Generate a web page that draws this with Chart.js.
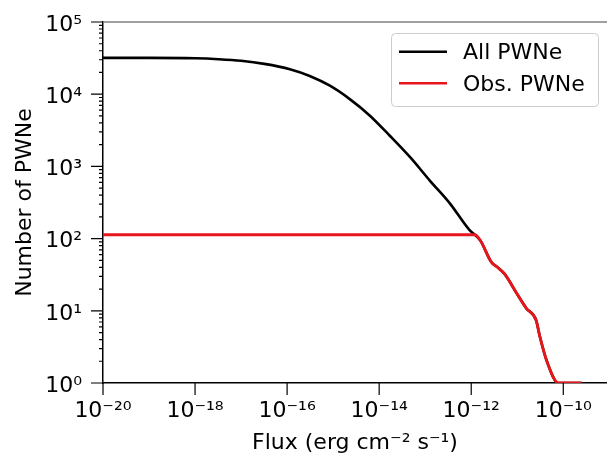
<!DOCTYPE html>
<html><head><meta charset="utf-8">
<script src="https://cdn.jsdelivr.net/npm/chart.js@4/dist/chart.umd.min.js"></script>
<style>html,body{margin:0;padding:0;background:#fff;overflow:hidden}canvas{display:block}</style>
</head><body>
<canvas id="c" width="607" height="456"></canvas>
<script>
// ---- data ----
const seriesLabels = ['All PWNe', 'Obs. PWNe'];
const allFlux  = [1e-20, 1e-19, 1e-18, 3.2e-18, 1e-17, 3.2e-17, 1.15e-16, 3.1e-16, 8.5e-16, 2.3e-15, 6.3e-15, 1.7e-14, 4.7e-14, 1.26e-13, 3.5e-13, 9.3e-13, 1.2e-12, 1.58e-12, 2.75e-12, 3.55e-12, 5.4e-12, 9.8e-12, 1.58e-11, 2.57e-11, 3.1e-11, 4.4e-11, 7.8e-11, 2.5e-10];
const allCount = [31800, 31800, 31400, 30500, 29000, 26300, 22200, 17900, 13100, 8550, 5040, 2660, 1340, 637, 303, 130, 113, 94, 47, 41, 32, 17.3, 10.8, 7.4, 4.4, 2.0, 1, 1];
const obsFlux  = [1e-20, 1.2e-12, 1.58e-12, 2.75e-12, 3.55e-12, 5.4e-12, 9.8e-12, 1.58e-11, 2.57e-11, 3.1e-11, 4.4e-11, 7.8e-11, 2.5e-10];
const obsCount = [113, 113, 94, 47, 41, 32, 17.3, 10.8, 7.4, 4.4, 2.0, 1, 1];
const xTickValues = [1e-20, 1e-18, 1e-16, 1e-14, 1e-12, 1e-10];
const yTickValues = [1, 10, 100, 1000, 10000, 100000];
const xTitle = 'Flux (erg cm⁻² s⁻¹)';
const yTitle = 'Number of PWNe';

const SUP = {'-':'⁻','0':'⁰','1':'¹','2':'²','3':'³','4':'⁴','5':'⁵','6':'⁶','7':'⁷','8':'⁸','9':'⁹'};
function powLabel(v) {
  const e = Math.round(Math.log10(v));
  return '10' + String(e).split('').map(ch => SUP[ch]).join('');
}
const FONT = "'DejaVu Sans', sans-serif";
const colors = ['#000000', '#e8151b'];

const decor = {
  id: 'decor',
  afterDraw(chart) {
    const {ctx, chartArea: a, scales: {x, y}} = chart;
    ctx.save();
    // top spine
    ctx.strokeStyle = '#808080'; ctx.lineWidth = 1.3;
    ctx.beginPath(); ctx.moveTo(a.left, a.top); ctx.lineTo(a.right, a.top); ctx.stroke();
    // tick marks
    ctx.strokeStyle = '#000'; ctx.lineWidth = 1.2;
    ctx.beginPath();
    yTickValues.forEach(v => { const p = y.getPixelForValue(v); ctx.moveTo(a.left - 12, p); ctx.lineTo(a.left, p); });
    for (let d = 0; d < yTickValues.length - 1; d++) {
      for (let m = 2; m <= 9; m++) {
        const p = y.getPixelForValue(m * yTickValues[d]);
        ctx.moveTo(a.left - 4, p); ctx.lineTo(a.left, p);
      }
    }
    xTickValues.forEach(v => { const p = x.getPixelForValue(v); ctx.moveTo(p, a.bottom); ctx.lineTo(p, a.bottom + 12); });
    ctx.stroke();
    // legend
    const bx = 391, by = 33, bw = 207, bh = 73, r = 4;
    ctx.fillStyle = 'rgba(255,255,255,0.85)';
    ctx.strokeStyle = '#cccccc'; ctx.lineWidth = 1;
    ctx.beginPath();
    ctx.roundRect(bx + 0.5, by + 0.5, bw, bh, r);
    ctx.fill(); ctx.stroke();
    ctx.font = '22px ' + FONT; ctx.textBaseline = 'middle'; ctx.textAlign = 'left';
    chart.data.datasets.forEach((ds, i) => {
      const ly = 51.7 + i * 31.6;
      ctx.strokeStyle = ds.borderColor; ctx.lineWidth = 2.5;
      ctx.beginPath(); ctx.moveTo(399, ly); ctx.lineTo(447, ly); ctx.stroke();
      ctx.fillStyle = '#000';
      ctx.fillText(ds.label, 463, ly + 1.5);
    });
    ctx.restore();
  }
};

new Chart(document.getElementById('c'), {
  type: 'line',
  data: {
    datasets: [
      { label: seriesLabels[0], data: allFlux.map((f, i) => ({x: f, y: allCount[i]})), borderColor: colors[0], backgroundColor: colors[0], borderWidth: 2.6, pointRadius: 0, cubicInterpolationMode: 'monotone', order: 1 },
      { label: seriesLabels[1], data: obsFlux.map((f, i) => ({x: f, y: obsCount[i]})), borderColor: colors[1], backgroundColor: colors[1], borderWidth: 2.8, pointRadius: 0, cubicInterpolationMode: 'monotone', order: 0 }
    ]
  },
  options: {
    responsive: false, animation: false, devicePixelRatio: 1,
    layout: { padding: { left: 0, right: 0, top: 22, bottom: 0 } },
    plugins: { legend: { display: false }, tooltip: { enabled: false } },
    scales: {
      x: {
        type: 'logarithmic', min: 1e-20, max: Math.pow(10, -9.05),
        afterBuildTicks: s => { s.ticks = xTickValues.map(v => ({value: v})); },
        afterFit: s => { s.height = 73; s.paddingLeft = 0; s.paddingRight = 0; },
        grid: { display: true, drawOnChartArea: false, drawTicks: false },
        border: { display: true, color: '#000', width: 1.5 },
        ticks: { autoSkip: false, maxRotation: 0, padding: 15, color: '#000', font: { family: FONT, size: 22 }, callback: v => powLabel(v) },
        title: { display: true, text: xTitle, color: '#000', font: { family: FONT, size: 22 }, padding: { top: 0, bottom: 0 } }
      },
      y: {
        type: 'logarithmic', min: 1, max: 1e5,
        afterBuildTicks: s => { s.ticks = yTickValues.map(v => ({value: v})); },
        afterFit: s => { s.width = 103; s.paddingTop = 0; s.paddingBottom = 0; },
        grid: { display: true, drawOnChartArea: false, drawTicks: false },
        border: { display: true, color: '#000', width: 1.5 },
        ticks: { autoSkip: false, padding: 21, labelOffset: 3, color: '#000', font: { family: FONT, size: 22 }, callback: v => powLabel(v) },
        title: { display: true, text: yTitle, color: '#000', font: { family: FONT, size: 22 }, padding: { top: 12, bottom: 0 } }
      }
    }
  },
  plugins: [decor]
});
</script>
</body></html>
